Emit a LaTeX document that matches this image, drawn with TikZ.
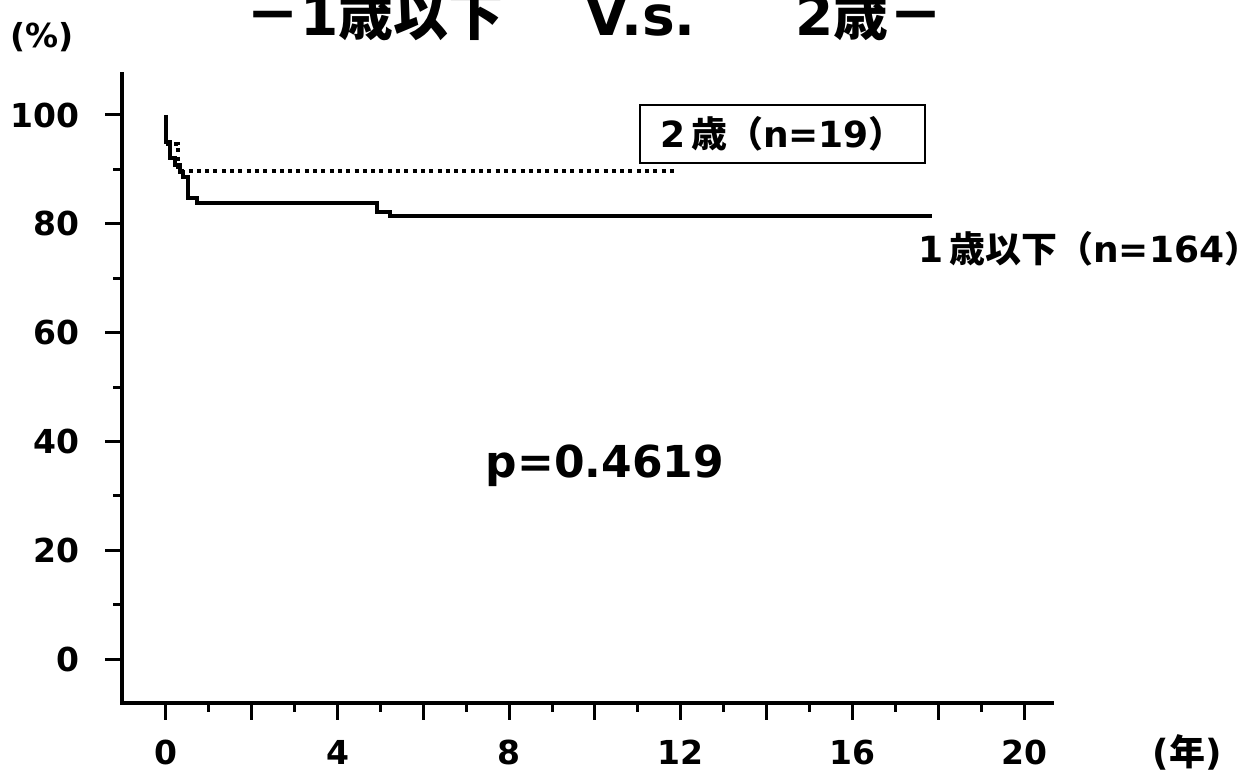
\documentclass[tikz,border=0pt]{standalone}
\usepackage{fontspec}
\setmainfont{DejaVu Sans}
\newfontfamily\cjk{Noto Sans CJK JP}
\begin{document}
\begin{tikzpicture}[x=21.45pt, y=2.72pt]

\tikzstyle{every node} = [inner sep=0pt]
\tikzstyle{axis} = [line width=2pt]
\tikzstyle{tick} = [line width=1.5pt]
\tikzstyle{lab} = [font=\fontsize{16.5}{18}\selectfont\bfseries]
\tikzstyle{leglab} = [font=\fontsize{18}{20}\selectfont\bfseries]
\tikzstyle{kmline} = [line width=2pt]
\tikzstyle{kmdots} = [line width=2pt, dash pattern=on 2pt off 2.15pt]

\useasboundingbox (-3.869,-22.06) rectangle (25.291,121.14);

% axes
\coordinate (ytop) at (-1.026,107.9);
\coordinate (o) at (-1.026,-8.09);
\coordinate (xend) at (20.7,-8.09);
\draw[axis] (ytop) -- (o) -- (xend);

\foreach \t in {0,2,...,20} \draw[tick] (\t,-8.09) -- ++(0,-8.5pt);
\foreach \t in {1,3,...,19} \draw[tick] (\t,-8.09) -- ++(0,-4.5pt);
\foreach \v in {0,20,...,100} \draw[tick] (-1.026,\v) -- ++(-8.5pt,0);
\foreach \v in {10,30,...,90} \draw[tick] (-1.026,\v) -- ++(-4.5pt,0);

\foreach \t in {0,4,...,20} \node[lab] at (\t,-17.1) {\t};
\foreach \v in {0,20,...,100} \node[lab, anchor=east] at (-2.0,\v) {\v};

\node[lab] (pct) at (-2.89,114.3) {(\%)};
\node[leglab] (nen) at (23.80,-17.1) {({\cjk 年})};

% title
\node[font=\fontsize{27.5}{30}\selectfont\bfseries, anchor=base west] (title) at (1.84,114.7)
  {{\cjk －}1{\cjk 歳以下}\hspace{41pt}V.s.\hspace{50pt}2{\cjk 歳－}};

% curves
\draw[kmline] (0,100) -- (0,95.0) -- (0.09,95.0) -- (0.09,92.1) -- (0.21,92.1) -- (0.21,90.8)
  -- (0.33,90.8) -- (0.33,89.5) -- (0.40,89.5) -- (0.40,88.6) -- (0.51,88.6) -- (0.51,84.7)
  -- (0.72,84.7) -- (0.72,83.8) -- (4.92,83.8) -- (4.92,82.2) -- (5.22,82.2) -- (5.22,81.4)
  -- (17.86,81.4);
\draw[kmdots] (0,94.7) -- (0.28,94.7) -- (0.28,89.7) -- (11.93,89.7);

\node[draw, line width=1pt, leglab, minimum width=142.5pt, minimum height=29pt] (leg2) at (14.37,96.5)
  {2\hspace{3pt}{\cjk 歳（}n=19{\cjk ）}};
\node[leglab] (leg1) at (21.52,75.37) {1\hspace{3pt}{\cjk 歳以下（}n=164{\cjk ）}};
\node[font=\fontsize{22}{24}\selectfont\bfseries] (pval) at (10.23,35.48) {p=0.4619};

\end{tikzpicture}
\end{document}
